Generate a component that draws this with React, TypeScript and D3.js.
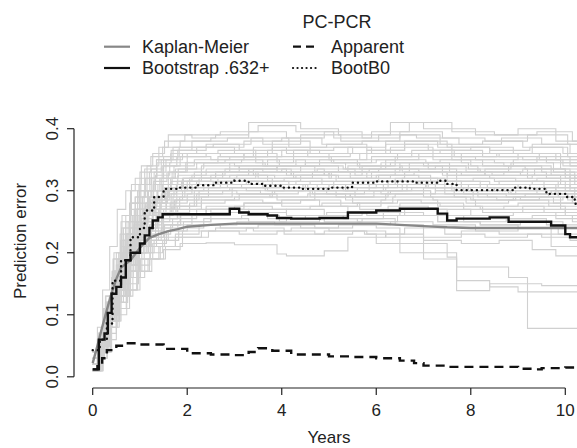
import React from "react";
import * as d3 from "d3";

// ---------- data ----------
const X_TICKS = [0, 2, 4, 6, 8, 10];
const Y_TICKS = [0, 0.1, 0.2, 0.3, 0.4];
const LEGEND_TITLE = "PC-PCR";
const LEGEND_LABELS = ["Kaplan-Meier", "Bootstrap .632+", "Apparent", "BootB0"];

const KM_T = [0, 0.1, 0.2, 0.3, 0.4, 0.5, 0.6, 0.8, 1.0, 1.2, 1.4, 1.6, 1.8, 2.0, 2.5, 3.0, 3.5, 4.0, 5.0, 6.0, 6.5, 7.0, 7.5, 8.0, 9.0, 10.0, 10.5];
const KM_V = [0.022, 0.05, 0.08, 0.108, 0.135, 0.158, 0.176, 0.188, 0.208, 0.224, 0.23, 0.235, 0.238, 0.242, 0.245, 0.247, 0.247, 0.247, 0.247, 0.247, 0.245, 0.243, 0.241, 0.24, 0.24, 0.24, 0.24];

const B632_T = [0, 0.13, 0.25, 0.32, 0.4, 0.5, 0.6, 0.7, 0.8, 1.0, 1.1, 1.2, 1.27, 1.38, 1.48, 2.9, 3.1, 3.3, 3.7, 3.9, 4.2, 4.8, 5.4, 6.0, 6.5, 7.3, 7.5, 7.7, 8.4, 8.8, 9.2, 9.7, 10.0, 10.1, 10.5];
const B632_V = [0.012, 0.06, 0.07, 0.103, 0.134, 0.145, 0.16, 0.188, 0.2, 0.215, 0.228, 0.24, 0.252, 0.257, 0.262, 0.271, 0.265, 0.262, 0.26, 0.256, 0.255, 0.256, 0.265, 0.268, 0.271, 0.263, 0.252, 0.255, 0.257, 0.25, 0.25, 0.244, 0.23, 0.225, 0.225];

const APP_T = [0, 0.1, 0.2, 0.3, 0.5, 0.65, 1.0, 1.5, 2.0, 2.5, 3.0, 3.3, 3.5, 3.8, 4.2, 5.0, 5.5, 6.0, 6.5, 6.8, 7.0, 7.5, 8.0, 9.0, 9.3, 9.5, 10.0, 10.5];
const APP_V = [0.012, 0.02, 0.03, 0.043, 0.05, 0.054, 0.052, 0.045, 0.038, 0.036, 0.035, 0.04, 0.046, 0.042, 0.036, 0.033, 0.032, 0.03, 0.026, 0.022, 0.018, 0.016, 0.016, 0.013, 0.012, 0.014, 0.015, 0.015];

const B0_T = [0, 0.15, 0.3, 0.42, 0.6, 0.8, 1.0, 1.1, 1.3, 1.5, 1.8, 2.2, 2.6, 3.0, 3.3, 3.6, 4.0, 4.4, 5.0, 5.4, 5.5, 6.0, 6.5, 6.8, 7.3, 7.5, 7.7, 8.2, 8.9, 9.25, 9.6, 10.0, 10.2, 10.5];
const B0_V = [0.043, 0.06, 0.086, 0.155, 0.188, 0.225, 0.24, 0.268, 0.29, 0.303, 0.305, 0.309, 0.313, 0.316, 0.311, 0.308, 0.305, 0.303, 0.305, 0.306, 0.313, 0.315, 0.315, 0.313, 0.316, 0.311, 0.301, 0.301, 0.305, 0.303, 0.295, 0.29, 0.279, 0.279];

// bootstrap replicate curves: [time, prediction error] breakpoints
const BOOT_CURVES: number[][][] = [
  [[0,.03],[.12,.06],[.3,.12],[.5,.2],[.7,.26],[.95,.3],[1.15,.34],[1.4,.37],[1.6,.39],[2.1,.385],[2.6,.39],[3.3,.41],[4.4,.4],[5.2,.39],[6.3,.41],[7.0,.4],[8.1,.39],[9.0,.4],[9.8,.38]],
  [[0,.02],[.1,.05],[.25,.1],[.45,.17],[.65,.24],[.9,.29],[1.1,.32],[1.35,.35],[1.7,.37],[2.4,.375],[3.1,.365],[3.8,.38],[4.6,.37],[5.5,.36],[6.2,.38],[7.3,.37],[8.4,.36],[9.3,.375],[10.1,.36]],
  [[0,.04],[.18,.07],[.35,.13],[.55,.2],[.75,.25],[1.0,.3],[1.3,.33],[1.55,.35],[1.9,.36],[2.7,.355],[3.4,.37],[4.1,.36],[5.0,.35],[5.8,.365],[6.6,.375],[7.6,.36],[8.6,.355],[9.6,.345]],
  [[0,.01],[.14,.04],[.28,.09],[.42,.15],[.6,.21],[.85,.26],[1.05,.29],[1.25,.32],[1.5,.34],[1.85,.355],[2.5,.35],[3.2,.36],[3.9,.345],[4.8,.35],[5.6,.34],[6.4,.355],[7.2,.35],[8.0,.34],[8.9,.35],[9.9,.335]],
  [[0,.02],[.2,.06],[.38,.13],[.58,.19],[.8,.24],[1.02,.28],[1.28,.31],[1.6,.33],[2.0,.345],[2.8,.35],[3.6,.34],[4.3,.35],[5.1,.345],[6.0,.35],[6.9,.36],[7.8,.345],[8.7,.34],[9.5,.33],[10.2,.32]],
  [[0,.03],[.16,.07],[.32,.12],[.5,.18],[.72,.23],[.92,.27],[1.18,.3],[1.45,.32],[1.75,.335],[2.2,.345],[3.0,.34],[3.7,.35],[4.5,.34],[5.3,.335],[6.1,.345],[7.0,.34],[7.9,.33],[8.8,.34],[9.7,.325]],
  [[0,.01],[.1,.03],[.24,.08],[.4,.14],[.62,.2],[.88,.25],[1.12,.28],[1.38,.31],[1.68,.33],[2.3,.34],[3.1,.335],[3.9,.34],[4.7,.33],[5.4,.34],[6.3,.345],[7.1,.335],[8.2,.33],[9.1,.335],[10.0,.32]],
  [[0,.02],[.13,.05],[.3,.11],[.48,.17],[.68,.22],[.95,.26],[1.2,.29],[1.48,.31],[1.8,.325],[2.4,.335],[3.3,.33],[4.0,.335],[4.9,.325],[5.7,.33],[6.5,.34],[7.4,.33],[8.3,.325],[9.2,.32],[9.9,.31]],
  [[0,.03],[.22,.07],[.36,.12],[.52,.17],[.74,.22],[.98,.26],[1.22,.285],[1.52,.305],[1.9,.32],[2.6,.33],[3.4,.325],[4.2,.33],[5.0,.32],[5.9,.33],[6.7,.335],[7.7,.32],[8.5,.315],[9.4,.32],[10.1,.305]],
  [[0,.01],[.15,.04],[.3,.09],[.46,.14],[.66,.19],[.86,.23],[1.08,.26],[1.32,.285],[1.62,.305],[2.05,.32],[2.9,.325],[3.7,.315],[4.4,.325],[5.2,.32],[6.0,.325],[6.8,.33],[7.5,.315],[8.4,.31],[9.3,.315],[10.0,.3]],
  [[0,.02],[.11,.05],[.27,.1],[.44,.15],[.64,.2],[.9,.24],[1.15,.27],[1.42,.29],[1.72,.305],[2.2,.315],[3.0,.32],[3.8,.31],[4.6,.315],[5.5,.31],[6.4,.32],[7.3,.315],[8.2,.305],[9.0,.31],[9.8,.3]],
  [[0,.04],[.2,.08],[.34,.12],[.56,.17],[.78,.21],[1.0,.24],[1.26,.27],[1.56,.29],[1.95,.305],[2.7,.315],[3.5,.31],[4.3,.315],[5.1,.305],[6.0,.31],[6.9,.315],[7.8,.305],[8.7,.3],[9.6,.305],[10.2,.29]],
  [[0,.02],[.17,.05],[.33,.1],[.5,.15],[.7,.19],[.93,.23],[1.16,.26],[1.44,.28],[1.78,.3],[2.35,.31],[3.15,.305],[3.95,.31],[4.75,.3],[5.6,.305],[6.45,.315],[7.25,.3],[8.05,.295],[8.95,.3],[9.85,.29]],
  [[0,.01],[.12,.04],[.26,.09],[.42,.14],[.6,.18],[.82,.22],[1.06,.25],[1.34,.275],[1.66,.295],[2.1,.31],[2.85,.315],[3.6,.305],[4.45,.31],[5.35,.3],[6.15,.31],[7.05,.305],[7.95,.3],[8.8,.295],[9.7,.3]],
  [[0,.03],[.19,.06],[.37,.11],[.54,.15],[.76,.19],[.97,.22],[1.24,.25],[1.5,.27],[1.84,.29],[2.45,.305],[3.25,.3],[4.05,.305],[4.95,.295],[5.75,.3],[6.55,.31],[7.45,.295],[8.35,.29],[9.15,.295],[10.05,.285]],
  [[0,.02],[.14,.05],[.29,.09],[.47,.14],[.67,.18],[.87,.21],[1.1,.24],[1.36,.265],[1.64,.28],[2.0,.295],[2.75,.3],[3.55,.295],[4.35,.3],[5.15,.29],[5.95,.3],[6.75,.305],[7.65,.29],[8.55,.285],[9.45,.29],[10.15,.28]],
  [[0,.01],[.21,.05],[.35,.1],[.53,.14],[.73,.18],[.96,.22],[1.2,.245],[1.46,.265],[1.76,.285],[2.25,.3],[3.05,.295],[3.85,.3],[4.65,.295],[5.45,.29],[6.25,.3],[7.15,.295],[8.05,.285],[8.95,.29],[9.9,.28]],
  [[0,.03],[.13,.05],[.31,.1],[.49,.14],[.69,.18],[.91,.21],[1.14,.24],[1.4,.26],[1.7,.275],[2.15,.29],[2.95,.295],[3.75,.29],[4.55,.295],[5.35,.285],[6.2,.295],[7.0,.29],[7.9,.28],[8.8,.285],[9.65,.275]],
  [[0,.02],[.16,.05],[.32,.09],[.5,.13],[.7,.17],[.94,.2],[1.18,.23],[1.46,.255],[1.8,.27],[2.3,.285],[3.1,.29],[3.9,.285],[4.7,.29],[5.5,.28],[6.35,.29],[7.2,.285],[8.1,.275],[9.0,.28],[9.9,.27]],
  [[0,.01],[.11,.03],[.25,.08],[.41,.12],[.61,.16],[.83,.2],[1.07,.225],[1.33,.25],[1.63,.265],[2.05,.28],[2.8,.285],[3.6,.28],[4.4,.285],[5.25,.275],[6.1,.285],[6.95,.28],[7.85,.27],[8.7,.275],[9.55,.265]],
  [[0,.02],[.18,.05],[.36,.1],[.55,.14],[.77,.17],[.99,.2],[1.23,.225],[1.52,.245],[1.86,.26],[2.4,.275],[3.2,.28],[4.0,.275],[4.85,.28],[5.65,.27],[6.5,.28],[7.35,.275],[8.25,.265],[9.1,.27],[10.0,.26]],
  [[0,.04],[.15,.06],[.3,.1],[.48,.13],[.68,.17],[.9,.2],[1.13,.22],[1.39,.24],[1.69,.255],[2.2,.27],[3.0,.275],[3.8,.27],[4.6,.275],[5.4,.265],[6.25,.275],[7.1,.27],[8.0,.26],[8.9,.265],[9.8,.255]],
  [[0,.01],[.2,.04],[.38,.09],[.57,.13],[.79,.16],[1.01,.19],[1.27,.215],[1.56,.235],[1.92,.25],[2.5,.265],[3.3,.27],[4.1,.26],[4.95,.265],[5.8,.26],[6.6,.27],[7.5,.26],[8.4,.255],[9.3,.26],[10.15,.25]],
  [[0,.03],[.12,.05],[.28,.09],[.45,.12],[.65,.16],[.86,.19],[1.09,.21],[1.35,.23],[1.65,.245],[2.1,.26],[2.9,.265],[3.7,.255],[4.5,.26],[5.3,.255],[6.15,.265],[7.0,.26],[7.85,.25],[8.75,.255],[9.6,.245]],
  [[0,.02],[.17,.04],[.34,.08],[.52,.12],[.74,.15],[.97,.18],[1.21,.2],[1.48,.22],[1.82,.24],[2.35,.255],[3.15,.26],[3.95,.25],[4.8,.255],[5.6,.25],[6.45,.26],[7.3,.25],[8.2,.245],[9.05,.25],[9.95,.24]],
  [[0,.01],[.14,.03],[.31,.07],[.5,.11],[.71,.14],[.93,.17],[1.17,.19],[1.43,.21],[1.75,.23],[2.25,.245],[3.05,.25],[3.85,.245],[4.7,.24],[5.5,.245],[6.3,.25],[7.2,.245],[8.1,.235],[9.0,.24],[9.85,.23]],
  [[0,.02],[.19,.04],[.37,.08],[.56,.11],[.78,.14],[1.0,.17],[1.25,.19],[1.54,.21],[1.9,.225],[2.45,.235],[3.25,.24],[4.05,.23],[4.9,.235],[5.75,.23],[6.6,.24],[7.45,.23],[8.3,.225],[9.2,.23],[10.1,.22]],
  [[0,.03],[.1,.06],[.23,.11],[.4,.16],[.58,.2],[.8,.23],[1.04,.26],[1.3,.28],[1.58,.3],[2.0,.31],[2.65,.32],[3.45,.33],[4.25,.32],[5.05,.33],[5.85,.335],[6.7,.345],[7.55,.33],[8.45,.325],[9.35,.335],[10.1,.32]],
  [[0,.02],[.16,.05],[.33,.11],[.51,.16],[.71,.21],[.92,.25],[1.13,.28],[1.37,.3],[1.65,.32],[2.15,.33],[2.9,.345],[3.65,.34],[4.5,.345],[5.35,.335],[6.2,.35],[7.05,.345],[7.95,.335],[8.85,.345],[9.75,.33]],
  [[0,.04],[.13,.07],[.3,.12],[.47,.16],[.66,.19],[.89,.22],[1.11,.24],[1.37,.26],[1.67,.275],[2.2,.285],[3.0,.29],[3.8,.3],[4.6,.29],[5.45,.295],[6.3,.3],[7.15,.29],[8.0,.285],[8.9,.29],[9.75,.28]],
  [[0,.01],[.15,.03],[.3,.06],[.5,.1],[.72,.14],[.95,.17],[1.2,.19],[1.5,.205],[1.85,.215],[2.4,.216],[3.0,.213],[3.9,.198],[4.1,.195],[4.9,.203],[5.4,.225],[6.2,.23],[7.0,.225],[7.8,.235],[8.6,.23],[9.5,.225]],
  [[0,.02],[.2,.04],[.4,.09],[.6,.13],[.85,.16],[1.1,.19],[1.4,.21],[1.75,.225],[2.3,.235],[3.1,.23],[3.9,.235],[4.7,.23],[5.5,.235],[6.2,.225],[7.0,.22],[7.8,.215],[8.6,.22],[9.3,.205],[9.8,.195]],
  [[0,.02],[.16,.04],[.32,.08],[.5,.12],[.72,.16],[.96,.19],[1.22,.21],[1.52,.225],[1.9,.235],[2.6,.24],[3.4,.235],[4.2,.24],[5.0,.235],[5.8,.23],[6.0,.215],[7.5,.193],[7.7,.177],[8.8,.16],[9.2,.078]],
  [[0,.01],[.21,.04],[.39,.09],[.58,.13],[.8,.17],[1.04,.2],[1.3,.22],[1.6,.235],[2.0,.245],[2.7,.24],[3.5,.245],[4.4,.24],[5.2,.245],[6.0,.24],[6.5,.2],[7.7,.155],[8.4,.145],[9.0,.137]],
  [[0,.03],[.14,.05],[.29,.09],[.47,.13],[.69,.17],[.92,.2],[1.15,.22],[1.45,.24],[1.8,.25],[2.5,.255],[3.3,.25],[4.1,.255],[4.9,.25],[5.7,.255],[6.4,.245],[7.0,.19],[7.7,.139],[8.4,.15],[9.5,.147]],
  [[0,.02],[.18,.05],[.36,.1],[.54,.14],[.76,.18],[.99,.21],[1.24,.235],[1.5,.25],[1.85,.26],[2.5,.27],[3.3,.265],[4.1,.27],[4.9,.26],[5.7,.265],[6.5,.26],[7.3,.25],[8.2,.245],[9.0,.24],[9.7,.21]],
  [[0,.03],[.24,.08],[.4,.13],[.6,.19],[.84,.24],[1.07,.27],[1.33,.29],[1.6,.31],[2.05,.32],[2.75,.33],[3.5,.32],[4.3,.325],[5.15,.315],[6.05,.325],[6.9,.32],[7.7,.31],[8.6,.315],[9.55,.305]],
  [[0,.02],[.13,.05],[.27,.1],[.43,.15],[.63,.2],[.84,.24],[1.09,.27],[1.31,.29],[1.59,.305],[2.0,.315],[2.55,.31],[3.35,.315],[4.15,.305],[5.0,.31],[5.85,.3],[6.65,.31],[7.6,.3],[8.5,.305],[9.4,.295],[10.05,.29]],
  [[0,.01],[.18,.05],[.35,.11],[.53,.16],[.72,.21],[.96,.25],[1.19,.28],[1.47,.3],[1.79,.315],[2.3,.33],[3.1,.34],[3.9,.33],[4.75,.335],[5.55,.325],[6.4,.335],[7.25,.34],[8.15,.33],[9.05,.325],[9.9,.315]],
  [[0,.04],[.11,.07],[.29,.12],[.46,.17],[.66,.21],[.87,.245],[1.08,.27],[1.34,.29],[1.62,.3],[2.1,.305],[2.85,.31],[3.65,.3],[4.45,.305],[5.3,.3],[6.1,.295],[7.0,.305],[7.85,.295],[8.75,.29],[9.65,.295]],
  [[0,.02],[.2,.06],[.38,.12],[.56,.17],[.8,.22],[1.03,.255],[1.28,.28],[1.55,.3],[1.88,.315],[2.5,.325],[3.3,.335],[4.1,.325],[4.9,.33],[5.7,.34],[6.55,.33],[7.4,.325],[8.3,.335],[9.2,.325],[10.1,.315]],
  [[0,.03],[.15,.06],[.3,.1],[.48,.15],[.7,.19],[.91,.225],[1.14,.25],[1.41,.27],[1.73,.285],[2.2,.295],[2.95,.305],[3.75,.31],[4.55,.3],[5.4,.305],[6.25,.315],[7.1,.305],[8.0,.3],[8.9,.305],[9.8,.295]],
  [[0,.02],[.12,.05],[.26,.11],[.41,.17],[.58,.23],[.78,.28],[.98,.31],[1.2,.33],[1.45,.35],[1.8,.365],[2.4,.37],[3.2,.38],[4.0,.385],[4.85,.375],[5.7,.38],[6.5,.39],[7.35,.375],[8.25,.38],[9.1,.37],[9.95,.36]],
  [[0,.03],[.17,.06],[.33,.12],[.52,.18],[.73,.23],[.95,.27],[1.16,.3],[1.42,.32],[1.72,.34],[2.15,.35],[2.9,.355],[3.7,.365],[4.55,.355],[5.45,.36],[6.3,.37],[7.2,.355],[8.1,.35],[9.0,.36],[9.9,.345]],
  [[0,.03],[.14,.07],[.28,.13],[.45,.2],[.62,.26],[.82,.31],[1.03,.34],[1.27,.36],[1.52,.38],[1.95,.39],[2.7,.395],[3.5,.405],[4.3,.395],[5.1,.385],[5.9,.395],[6.7,.41],[7.6,.395],[8.5,.39],[9.4,.395],[10.15,.38]],
  [[0,.02],[.19,.06],[.34,.12],[.52,.19],[.7,.25],[.9,.29],[1.12,.32],[1.36,.345],[1.66,.365],[2.1,.38],[2.85,.385],[3.6,.375],[4.4,.39],[5.25,.38],[6.05,.39],[6.85,.385],[7.75,.375],[8.65,.385],[9.5,.375]],
  [[0,.04],[.12,.07],[.27,.13],[.43,.19],[.61,.24],[.81,.28],[1.02,.31],[1.24,.335],[1.5,.355],[1.83,.37],[2.55,.375],[3.35,.385],[4.15,.37],[4.95,.375],[5.8,.365],[6.6,.38],[7.5,.37],[8.4,.365],[9.25,.37],[10.05,.355]],
  [[0,.01],[.17,.05],[.31,.11],[.49,.17],[.69,.23],[.88,.27],[1.09,.3],[1.33,.325],[1.63,.345],[2.0,.36],[2.65,.365],[3.45,.355],[4.25,.365],[5.1,.37],[5.9,.36],[6.75,.365],[7.65,.355],[8.55,.36],[9.45,.35]],
  [[0,.02],[.13,.05],[.29,.11],[.46,.17],[.64,.22],[.85,.26],[1.06,.29],[1.29,.315],[1.57,.33],[1.97,.345],[2.65,.355],[3.45,.345],[4.25,.355],[5.05,.345],[5.9,.355],[6.75,.36],[7.6,.35],[8.5,.345],[9.4,.355],[10.1,.34]],
  [[0,.03],[.21,.07],[.37,.12],[.55,.18],[.77,.23],[1.0,.27],[1.23,.3],[1.49,.32],[1.81,.335],[2.35,.345],[3.15,.35],[3.95,.34],[4.8,.345],[5.65,.335],[6.5,.345],[7.35,.35],[8.25,.34],[9.15,.335],[10.0,.325]],
  [[0,.02],[.1,.04],[.24,.09],[.39,.14],[.57,.19],[.79,.23],[1.01,.26],[1.26,.285],[1.54,.305],[1.92,.32],[2.6,.33],[3.4,.335],[4.2,.325],[5.0,.33],[5.8,.32],[6.6,.33],[7.5,.325],[8.4,.32],[9.3,.325],[10.2,.31]],
  [[0,.03],[.16,.06],[.33,.11],[.51,.16],[.73,.21],[.94,.245],[1.17,.27],[1.45,.295],[1.77,.31],[2.25,.32],[3.05,.325],[3.85,.32],[4.65,.33],[5.45,.32],[6.3,.325],[7.15,.315],[8.05,.32],[8.95,.315],[9.85,.305]],
  [[0,.01],[.22,.05],[.39,.1],[.57,.15],[.79,.2],[1.02,.235],[1.27,.265],[1.55,.285],[1.9,.3],[2.45,.31],[3.25,.315],[4.05,.32],[4.85,.31],[5.7,.315],[6.55,.32],[7.45,.31],[8.35,.305],[9.25,.31],[10.1,.3]],
  [[0,.02],[.14,.05],[.31,.1],[.48,.14],[.68,.18],[.9,.22],[1.13,.25],[1.39,.27],[1.7,.29],[2.15,.3],[2.9,.305],[3.7,.3],[4.5,.31],[5.35,.3],[6.2,.305],[7.05,.31],[7.95,.3],[8.85,.295],[9.7,.3]],
  [[0,.04],[.1,.08],[.21,.14],[.36,.21],[.52,.27],[.7,.3],[.9,.32],[1.1,.335],[1.35,.35],[1.65,.36],[2.2,.37],[3.0,.36],[3.8,.37],[4.6,.36],[5.4,.37],[6.2,.375],[7.1,.365],[8.0,.37],[8.9,.36],[9.8,.35]],
  [[0,.03],[.18,.06],[.35,.1],[.53,.14],[.74,.18],[.96,.21],[1.2,.235],[1.47,.255],[1.79,.275],[2.3,.29],[3.1,.295],[3.9,.29],[4.7,.3],[5.55,.29],[6.4,.295],[7.25,.3],[8.15,.29],[9.05,.285],[9.95,.29]],
  [[0,.01],[.15,.05],[.3,.1],[.47,.16],[.67,.21],[.89,.25],[1.11,.275],[1.36,.3],[1.66,.315],[2.1,.325],[2.8,.335],[3.6,.33],[4.4,.34],[5.2,.33],[6.05,.335],[6.9,.33],[7.8,.325],[8.7,.33],[9.6,.32]],
  [[0,.02],[.11,.05],[.26,.11],[.42,.17],[.59,.22],[.79,.27],[.99,.3],[1.21,.32],[1.47,.34],[1.78,.355],[2.4,.36],[3.2,.355],[4.0,.365],[4.8,.36],[5.65,.35],[6.45,.36],[7.35,.365],[8.25,.355],[9.1,.35],[9.95,.34]],
  [[0,.02],[.2,.05],[.37,.09],[.55,.13],[.76,.17],[.98,.2],[1.22,.225],[1.5,.245],[1.86,.26],[2.4,.27],[3.2,.28],[4.0,.285],[4.8,.275],[5.6,.28],[6.45,.285],[7.3,.275],[8.2,.27],[9.1,.275],[10.0,.265]],
  [[0,.03],[.13,.06],[.27,.12],[.44,.19],[.6,.25],[.8,.3],[1.0,.33],[1.23,.355],[1.48,.37],[1.85,.38],[2.5,.385],[3.3,.395],[4.1,.385],[4.9,.395],[5.7,.385],[6.5,.395],[7.4,.385],[8.3,.38],[9.2,.39],[10.05,.375]],
];

const T_END = 10.6;

const W = 577;
const H = 448;
const FONT = "'Liberation Sans', Arial, Helvetica, sans-serif";
const TXT = "#222";

export default function App() {
  const x = d3.scaleLinear().domain([0, 10]).range([92.7, 565.3]);
  const y = d3.scaleLinear().domain([0, 0.4]).range([376.8, 128.7]);

  const step = d3
    .line<[number, number]>()
    .x((d) => x(d[0]))
    .y((d) => y(d[1]))
    .curve(d3.curveStepAfter);
  const lin = d3
    .line<[number, number]>()
    .x((d) => x(d[0]))
    .y((d) => y(d[1]));

  const withEnd = (pts: number[][]) => {
    const p = pts.map((d) => [d[0], d[1]] as [number, number]);
    p.push([T_END, p[p.length - 1][1]]);
    return p;
  };
  const zip = (t: number[], v: number[]) => t.map((ti, i) => [ti, v[i]] as [number, number]);

  const plotLeft = 74;
  const plotTop = 92;
  const plotBottom = 388;

  const legendRows = [
    { x: 104, y: 46.7, label: LEGEND_LABELS[0], stroke: "#878787", dash: "", cap: "butt" },
    { x: 104, y: 68, label: LEGEND_LABELS[1], stroke: "#111", dash: "", cap: "butt" },
    { x: 293, y: 46.7, label: LEGEND_LABELS[2], stroke: "#111", dash: "8,5", cap: "butt" },
    { x: 293, y: 68, label: LEGEND_LABELS[3], stroke: "#111", dash: "0.1,4.4", cap: "round" },
  ];

  return (
    <svg
      width={W}
      height={H}
      style={{ position: "absolute", left: 0, top: 0, background: "#fff" }}
      fontFamily={FONT}
    >
      <defs>
        <clipPath id="plotclip">
          <rect x={plotLeft} y={plotTop} width={W - plotLeft} height={plotBottom - plotTop} />
        </clipPath>
      </defs>

      <g clipPath="url(#plotclip)" fill="none">
        {BOOT_CURVES.map((c, i) => (
          <path key={i} d={step(withEnd(c)) || ""} stroke="#d0d0d0" strokeWidth={1.1} />
        ))}
        <path d={lin(zip(KM_T, KM_V)) || ""} stroke="#878787" strokeWidth={2.4} />
        <path d={step(zip(B632_T, B632_V)) || ""} stroke="#111" strokeWidth={2.4} />
        <path d={step(zip(APP_T, APP_V)) || ""} stroke="#111" strokeWidth={2.4} strokeDasharray="9,6" />
        <path
          d={step(zip(B0_T, B0_V)) || ""}
          stroke="#111"
          strokeWidth={2.4}
          strokeDasharray="0.1,5"
          strokeLinecap="round"
        />
      </g>

      {/* y axis */}
      <g stroke="#222" strokeWidth={1.2}>
        <line x1={plotLeft} x2={plotLeft} y1={y(0)} y2={y(0.4)} />
        {Y_TICKS.map((t) => (
          <line key={t} x1={plotLeft - 7} x2={plotLeft} y1={y(t)} y2={y(t)} />
        ))}
      </g>
      {Y_TICKS.map((t) => (
        <text
          key={t}
          transform={`translate(58,${y(t)}) rotate(-90)`}
          textAnchor="middle"
          fontSize={17}
          fill={TXT}
        >
          {d3.format(".1f")(t)}
        </text>
      ))}
      <text transform={`translate(26,241) rotate(-90)`} textAnchor="middle" fontSize={17} fill={TXT}>
        Prediction error
      </text>

      {/* x axis */}
      <g stroke="#222" strokeWidth={1.2}>
        <line x1={x(0)} x2={x(10)} y1={plotBottom} y2={plotBottom} />
        {X_TICKS.map((t) => (
          <line key={t} x1={x(t)} x2={x(t)} y1={plotBottom} y2={plotBottom + 7} />
        ))}
      </g>
      {X_TICKS.map((t) => (
        <text key={t} x={x(t)} y={415.5} textAnchor="middle" fontSize={17} fill={TXT}>
          {t}
        </text>
      ))}
      <text x={329} y={443} textAnchor="middle" fontSize={17} fill={TXT}>
        Years
      </text>

      {/* legend */}
      <text x={337} y={28} textAnchor="middle" fontSize={18} fill={TXT}>
        {LEGEND_TITLE}
      </text>
      {legendRows.map((r) => (
        <g key={r.label}>
          <line
            x1={r.x}
            x2={r.x + 26}
            y1={r.y}
            y2={r.y}
            stroke={r.stroke}
            strokeWidth={2.2}
            strokeDasharray={r.dash || undefined}
            strokeLinecap={r.cap as any}
          />
          <text x={r.x + 38} y={r.y + 6.4} fontSize={18} fill={TXT}>
            {r.label}
          </text>
        </g>
      ))}
    </svg>
  );
}
